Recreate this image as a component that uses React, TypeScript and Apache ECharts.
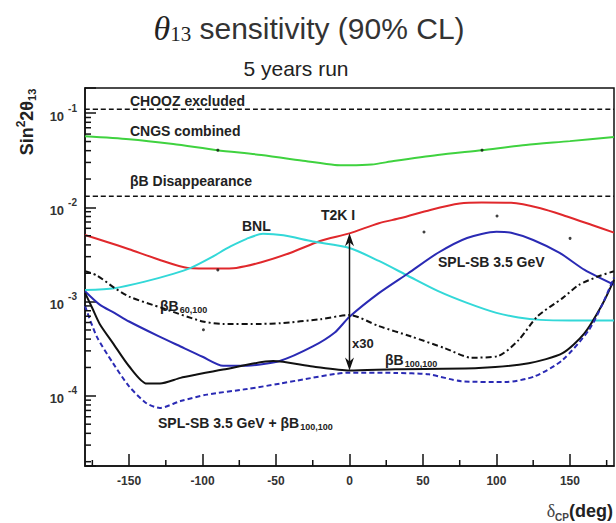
import React, { useEffect, useRef } from "react";
import * as echarts from "echarts";

const xMin = -180;
const xMax = 180;
const yMin = 1.8e-5;
const yMax = 0.185;
const xMajorTicks = [-150, -100, -50, 0, 50, 100, 150];
const xMinorTicks = [-175, -125, -75, -25, 25, 75, 125, 175];
const yMinorTicks = [
  2e-5, 3e-5, 4e-5, 5e-5, 6e-5, 7e-5, 8e-5, 9e-5,
  2e-4, 3e-4, 4e-4, 5e-4, 6e-4, 7e-4, 8e-4, 9e-4,
  2e-3, 3e-3, 4e-3, 5e-3, 6e-3, 7e-3, 8e-3, 9e-3,
  2e-2, 3e-2, 4e-2, 5e-2, 6e-2, 7e-2, 8e-2, 9e-2,
];

const choozLimit = 0.11;
const betaBDisappearance = 0.0131;

const cngs = [
  [-180, 0.057], [-150, 0.053], [-120, 0.047], [-90, 0.0405], [-60, 0.036], [-30, 0.031],
  [-10, 0.0282], [0, 0.028], [15, 0.0285], [30, 0.031], [60, 0.036], [90, 0.0405],
  [120, 0.046], [150, 0.0505], [180, 0.056],
];

const t2k = [
  [-180, 0.0051], [-165, 0.0043], [-150, 0.0036], [-130, 0.0028], [-110, 0.00228], [-90, 0.00224],
  [-77, 0.00228], [-60, 0.00262], [-40, 0.0033], [-20, 0.0044], [0, 0.0053], [20, 0.0068],
  [35, 0.0077], [55, 0.0094], [75, 0.011], [90, 0.0113], [110, 0.0112], [130, 0.0098],
  [148, 0.008], [165, 0.0065], [180, 0.0054],
];

const bnl = [
  [-180, 0.00133], [-160, 0.00139], [-140, 0.00162], [-120, 0.00197], [-108, 0.00228], [-95, 0.00289],
  [-81, 0.00385], [-70, 0.00464], [-59, 0.00524], [-45, 0.00505], [-25, 0.00434], [0, 0.0037],
  [20, 0.0027], [40, 0.00187], [60, 0.0013], [80, 0.00097], [100, 0.00076], [115, 0.00068],
  [130, 0.00064], [150, 0.00063], [180, 0.00063],
];

const betaB60 = [
  [-180, 0.0021], [-172, 0.0019], [-160, 0.0014], [-150, 0.00113], [-127, 0.00085], [-100, 0.000616],
  [-86, 0.00058], [-60, 0.00058], [-47, 0.00059], [-20, 0.00065], [0, 0.00072], [20, 0.00055],
  [42, 0.000426], [65, 0.00032], [83, 0.000254], [101, 0.000264], [115, 0.00039], [128, 0.0007],
  [145, 0.00109], [156, 0.0015], [170, 0.00187], [180, 0.0021],
];

const splSB = [
  [-180, 0.00129], [-170, 0.00093], [-160, 0.00076], [-150, 0.000615], [-130, 0.00043], [-115, 0.000334],
  [-100, 0.00026], [-86, 0.000209], [-70, 0.000209], [-47, 0.000236], [-25, 0.000334], [-10, 0.00047],
  [0, 0.00069], [20, 0.00123], [40, 0.002], [60, 0.00328], [80, 0.00474], [100, 0.00551],
  [110, 0.00538], [125, 0.00451], [143, 0.00329], [160, 0.00217], [180, 0.00151],
];

const betaB100 = [
  [-180, 0.00124], [-175, 0.00085], [-170, 0.00058], [-161, 0.000363], [-150, 0.000206], [-138, 0.000135],
  [-129, 0.000135], [-115, 0.000155], [-104, 0.000168], [-86, 0.00019], [-52, 0.000234], [-25, 0.000205],
  [0, 0.000186], [31, 0.000192], [88, 0.000197], [122, 0.000222], [145, 0.000284], [160, 0.000463],
  [172, 0.00093], [180, 0.0017],
];

const splBetaB100 = [
  [-180, 0.0009], [-172, 0.000425], [-161, 0.000223], [-150, 0.000126], [-138, 0.000083], [-129, 0.0000745],
  [-115, 0.000088], [-97, 0.000103], [-70, 0.000118], [-47, 0.000135], [-36, 0.000145], [0, 0.000176],
  [31, 0.000175], [54, 0.000169], [76, 0.000143], [106, 0.00014], [126, 0.000161], [145, 0.00024],
  [163, 0.000502], [172, 0.00093], [180, 0.0018],
];

const stray = [
  [-89.6, 0.0405], [90.2, 0.0405], [-89.6, 0.00217], [-99.4, 0.000502], [100.4, 0.0081],
  [50.7, 0.00548], [150.1, 0.00469],
];

// x30 arrow: from T2K I down to beta-beam (100,100) at delta = 0
const arrowSpan = [[0, 0.0053, 0.000186]];

const SANS = '"Liberation Sans", Arial, sans-serif';
const SERIF = '"Liberation Serif", "Times New Roman", serif';
const INK = "#222";

function note(x: number, y: number, text: string, rich?: any, size = 14) {
  return {
    type: "text",
    x,
    y,
    silent: true,
    style: {
      text,
      fill: INK,
      fontFamily: SANS,
      fontWeight: "bold",
      fontSize: size,
      align: "left",
      verticalAlign: "middle",
      rich,
    },
  };
}

const betaRich = {
  a: { fontFamily: SANS, fontWeight: "bold", fontSize: 14, fill: INK },
  sub: { fontFamily: SANS, fontWeight: "bold", fontSize: 9, fill: INK, padding: [8, 0, 0, 1] },
};

export default function App() {
  const ref = useRef<HTMLDivElement>(null);
  useEffect(() => {
    if (!ref.current) return;
    const chart = echarts.init(ref.current, null, { renderer: "svg" });
    const line = (name: string, data: number[][], color: string, type: any = "solid", width = 2) => ({
      name,
      type: "line",
      data,
      showSymbol: false,
      smooth: 0.25,
      silent: true,
      lineStyle: { color, width, type },
      z: 3,
    });
    const option: any = {
      animation: false,
      backgroundColor: "#fff",
      grid: {
        left: 85, right: 2, top: 88, bottom: 57,
        show: true, borderColor: "#111", borderWidth: 1.5,
        outerBoundsMode: "none",
      },
      xAxis: {
        type: "value",
        min: xMin,
        max: xMax,
        axisLine: { show: true, onZero: false, lineStyle: { color: "#111", width: 1.5 } },
        axisTick: { show: true, inside: true, length: 12, customValues: xMajorTicks, lineStyle: { color: "#111", width: 1.5 } },
        axisLabel: {
          customValues: xMajorTicks,
          color: "#333",
          fontFamily: SANS,
          fontWeight: "bold",
          fontSize: 12,
          margin: 9,
        },
        splitLine: { show: false },
      },
      yAxis: {
        type: "log",
        logBase: 10,
        min: yMin,
        max: yMax,
        axisLine: { show: true, onZero: false, lineStyle: { color: "#111", width: 1.5 } },
        axisTick: { show: true, inside: true, length: 11, lineStyle: { color: "#111", width: 1.5 } },
        axisLabel: {
          margin: 8,
          formatter: (v: number) => {
            const e = Math.log10(v);
            const r = Math.round(e);
            if (Math.abs(e - r) > 1e-6) return "";
            return `{b|10}{s|${r}}`;
          },
          rich: {
            b: { fontFamily: SANS, fontWeight: "bold", fontSize: 13, color: "#333", padding: [6, 0, 0, 0] },
            s: { fontFamily: SANS, fontWeight: "bold", fontSize: 10, color: "#333", padding: [0, 0, 10, 4] },
          },
        },
        splitLine: { show: false },
        minorTick: { show: false },
      },
      series: [
        line("CHOOZ", [[xMin, choozLimit], [xMax, choozLimit]], "#111", [5, 3], 1.5),
        line("betaB disappearance", [[xMin, betaBDisappearance], [xMax, betaBDisappearance]], "#111", [5, 3], 1.5),
        line("CNGS combined", cngs, "#3fd23f"),
        line("T2K I", t2k, "#e0282c"),
        line("BNL", bnl, "#33d8d8"),
        line("SPL-SB 3.5 GeV", splSB, "#2a2ab4"),
        line("betaB 60,100", betaB60, "#111", [6, 3, 2, 3]),
        line("betaB 100,100", betaB100, "#111"),
        line("SPL-SB + betaB 100,100", splBetaB100, "#2a2ab4", [5, 3]),
        {
          type: "scatter",
          data: stray,
          symbolSize: 3,
          itemStyle: { color: "#111" },
          silent: true,
          z: 4,
        },
        {
          type: "custom",
          silent: true,
          data: arrowSpan,
          encode: { x: 0, y: 1 },
          renderItem: (params: any, api: any) => {
            const a = api.coord([api.value(0), api.value(1)]);
            const b = api.coord([api.value(0), api.value(2)]);
            const w = 4.5;
            const h = 13;
            return {
              type: "group",
              children: [
                { type: "line", shape: { x1: a[0], y1: a[1] + 4, x2: b[0], y2: b[1] - 4 }, style: { stroke: "#111", lineWidth: 1.5 } },
                { type: "polygon", shape: { points: [[a[0], a[1]], [a[0] - w, a[1] + h], [a[0], a[1] + h - 4], [a[0] + w, a[1] + h]] }, style: { fill: "#111" } },
                { type: "polygon", shape: { points: [[b[0], b[1]], [b[0] - w, b[1] - h], [b[0], b[1] - h + 4], [b[0] + w, b[1] - h]] }, style: { fill: "#111" } },
              ],
            };
          },
          z: 6,
        },
        {
          type: "custom",
          silent: true,
          data: yMinorTicks.map((v) => [xMin, v]),
          renderItem: (params: any, api: any) => {
            const p = api.coord([api.value(0), api.value(1)]);
            return { type: "line", shape: { x1: p[0], y1: p[1], x2: p[0] + 6, y2: p[1] }, style: { stroke: "#111", lineWidth: 1.5 } };
          },
          z: 5,
        },
        {
          type: "custom",
          silent: true,
          data: xMinorTicks.map((v) => [v, yMin]),
          renderItem: (params: any, api: any) => {
            const p = api.coord([api.value(0), api.value(1)]);
            return { type: "line", shape: { x1: p[0], y1: p[1], x2: p[0], y2: p[1] - 6 }, style: { stroke: "#111", lineWidth: 1.5 } };
          },
          z: 5,
        },
      ],
      graphic: [
        {
          type: "text",
          x: 309,
          y: 28,
          silent: true,
          style: {
            text: "{th|θ}{sub|13}{t| sensitivity (90% CL)}",
            align: "center",
            verticalAlign: "middle",
            rich: {
              th: { fontFamily: SERIF, fontStyle: "italic", fontSize: 34, fill: INK },
              sub: { fontFamily: SERIF, fontSize: 21, fill: INK, padding: [12, 0, 0, 0] },
              t: { fontFamily: SANS, fontSize: 30, fill: "#333" },
            },
          },
        },
        {
          type: "text",
          x: 296,
          y: 68,
          silent: true,
          style: { text: "5 years run", fill: INK, fontFamily: SANS, fontSize: 21, align: "center", verticalAlign: "middle" },
        },
        {
          type: "text",
          x: 27,
          y: 122,
          rotation: Math.PI / 2,
          silent: true,
          style: {
            text: "{n|Sin}{sup|2}{n|2θ}{sub|13}",
            align: "center",
            verticalAlign: "middle",
            rich: {
              n: { fontFamily: SANS, fontWeight: "bold", fontSize: 18, fill: INK },
              sup: { fontFamily: SANS, fontWeight: "bold", fontSize: 12, fill: INK, padding: [0, 0, 12, 0] },
              sub: { fontFamily: SANS, fontWeight: "bold", fontSize: 11, fill: INK, padding: [10, 0, 0, 0] },
            },
          },
        },
        {
          type: "text",
          x: 613,
          y: 511,
          silent: true,
          style: {
            text: "{d|δ}{sub|CP}{b|(deg)}",
            align: "right",
            verticalAlign: "middle",
            rich: {
              d: { fontFamily: SERIF, fontSize: 18, fill: "#444" },
              sub: { fontFamily: SANS, fontWeight: "bold", fontSize: 10, fill: "#444", padding: [12, 0, 0, 0] },
              b: { fontFamily: SANS, fontWeight: "bold", fontSize: 18, fill: INK },
            },
          },
        },
        note(130, 101, "CHOOZ excluded"),
        note(130, 131, "CNGS combined"),
        note(130, 181, "βB Disappearance"),
        note(242, 226, "BNL"),
        note(321, 215, "T2K I"),
        note(438, 262, "SPL-SB 3.5 GeV"),
        note(160, 306, "{a|βB}{sub|60,100}", betaRich),
        note(352, 343, "x30", undefined, 13),
        note(385, 360, "{a|βB}{sub|100,100}", betaRich),
        note(158, 423, "{a|SPL-SB 3.5 GeV + βB}{sub|100,100}", betaRich),
      ],
    };
    chart.setOption(option);
    return () => chart.dispose();
  }, []);
  return (
    <div
      ref={ref}
      style={{ position: "fixed", left: 0, top: 0, width: 616, height: 523, background: "#fff" }}
    />
  );
}
